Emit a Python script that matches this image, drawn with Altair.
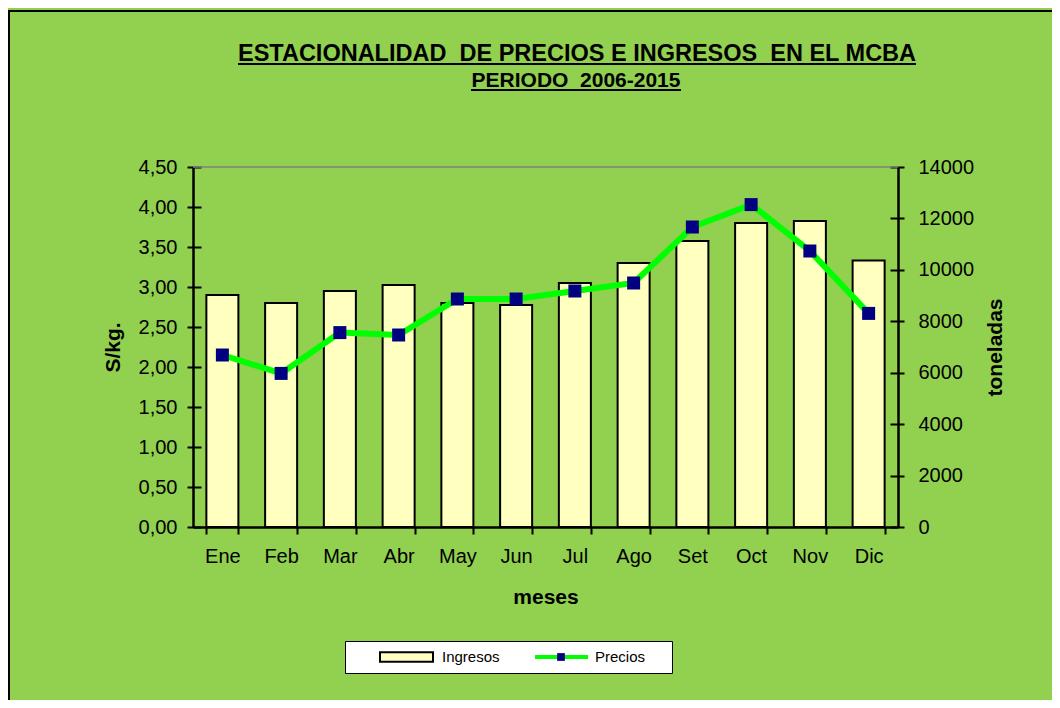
import altair as alt
import pandas as pd

# ---- data ----
meses = ["Ene", "Feb", "Mar", "Abr", "May", "Jun", "Jul", "Ago", "Set", "Oct", "Nov", "Dic"]
ingresos = [9020, 8710, 9180, 9410, 8710, 8630, 9490, 10270, 11120, 11820, 11900, 10360]
precios = [2.15, 1.92, 2.43, 2.40, 2.85, 2.85, 2.95, 3.05, 3.75, 4.03, 3.45, 2.67]
precio_ticks = [0, 0.5, 1.0, 1.5, 2.0, 2.5, 3.0, 3.5, 4.0, 4.5]
ton_ticks = [0, 2000, 4000, 6000, 8000, 10000, 12000, 14000]
titulo = "ESTACIONALIDAD\u00a0 DE PRECIOS E INGRESOS\u00a0 EN EL MCBA"
subtitulo = "PERIODO\u00a0 2006-2015"

df = pd.DataFrame({"mes": meses, "ingresos": ingresos, "precio": precios})

FONT = "Liberation Sans"
BG = "#92D050"
BAR = "#FFFFC0"
LINE = "#00FF00"
MARK = "#000080"
W, H = 705, 360

x_enc = alt.X(
    "mes:N", sort=meses, title="meses",
    scale=alt.Scale(paddingInner=0.455, paddingOuter=0.2275),
    axis=alt.Axis(labelAngle=0, tickBand="extent", labelFontSize=20, labelPadding=12,
                  tickSize=7, titleFontSize=21, titlePadding=20, titleFontWeight="bold"),
)

bars = alt.Chart(df).transform_calculate(serie="'Ingresos'").mark_bar(
    stroke="black", strokeWidth=2, opacity=1
).encode(
    x=x_enc,
    y=alt.Y("ingresos:Q", scale=alt.Scale(domain=[0, 14000], nice=False),
            axis=alt.Axis(orient="right", values=ton_ticks, format="d", title="toneladas",
                          titleAngle=270, labelFontSize=20, tickSize=6, labelPadding=14,
                          labelOverlap=False, titleFontSize=21, titleFontWeight="bold",
                          titlePadding=32)),
    fill=alt.Fill(
        "serie:N", scale=alt.Scale(domain=["Ingresos"], range=[BAR]),
        legend=alt.Legend(orient="none", legendX=186, legendY=481, title=None, padding=0,
                          zindex=2, symbolType="M-1,-0.18H1V0.18H-1Z", symbolSize=2809,
                          symbolStrokeColor="black", symbolStrokeWidth=2, symbolOpacity=1,
                          labelFontSize=15, labelFont=FONT, labelColor="black",
                          labelOffset=8, clipHeight=18)),
)


def price_y(field):
    return alt.Y(
        field + ":Q", scale=alt.Scale(domain=[0, 4.5], nice=False, zero=True),
        axis=alt.Axis(orient="left", values=precio_ticks, labelOverlap=False,
                      tickCount=10,
                      labelExpr="replace(format(datum.value, '.2f'), '.', ',')",
                      title="S/kg.", titleAngle=270, labelFontSize=20, tickSize=6,
                      labelPadding=10, titleFontSize=21, titleFontWeight="bold",
                      titlePadding=15),
    )


# gray line along the top of the plot (4,50)
top_line = alt.Chart(df).transform_aggregate(
    tope="max(precio)"
).transform_calculate(tope="4.5").mark_rule(color="#808080", strokeWidth=1.5).encode(
    y=price_y("tope"))

# this legend also draws the white legend box
line = alt.Chart(df).transform_calculate(serie2="'Precios'").mark_line(strokeWidth=6).encode(
    x=x_enc, y=price_y("precio"),
    stroke=alt.Stroke(
        "serie2:N", scale=alt.Scale(domain=["Precios"], range=[LINE]),
        legend=alt.Legend(orient="none", legendX=152, legendY=474, padding=7,
                          fillColor="white", strokeColor="black", zindex=1,
                          title=".", titleOrient="right", titleColor="white",
                          titleFontSize=15, titlePadding=15,
                          symbolType="stroke", symbolSize=2809, symbolOffset=181,
                          symbolStrokeWidth=4, symbolOpacity=1, clipHeight=18,
                          labelFontSize=15, labelFont=FONT, labelColor="black",
                          labelOffset=5)),
)

points = alt.Chart(df).transform_calculate(marca="'marcador'").mark_point(
    filled=True, color=MARK, size=169, opacity=1
).encode(
    x=x_enc, y=price_y("precio"),
    shape=alt.Shape(
        "marca:N",
        scale=alt.Scale(domain=["marcador"], range=["square"]),
        legend=alt.Legend(orient="none", legendX=363, legendY=481, title=None,
                          labelExpr="''", padding=0, symbolSize=60, zindex=3,
                          clipHeight=18, symbolFillColor=MARK, symbolStrokeColor=MARK,
                          symbolStrokeWidth=0, symbolOpacity=1),
    ),
)

price_layer = alt.layer(line, top_line, points)

# inner halves of the crossing tick marks on both value axes
inner_left = alt.Chart(df).mark_rule(opacity=0).encode(
    y=alt.Y("precio:Q", scale=alt.Scale(domain=[0, 4.5], nice=False),
            axis=alt.Axis(orient="left", offset=-8, values=precio_ticks, domain=False,
                          labels=False, tickSize=8, title=None, grid=False)))
inner_right = alt.Chart(df).mark_rule(opacity=0).encode(
    y=alt.Y("ingresos:Q", scale=alt.Scale(domain=[0, 14000], nice=False),
            axis=alt.Axis(orient="right", offset=-8, values=ton_ticks, domain=False,
                          labels=False, tickSize=8, title=None, grid=False)))

t1 = alt.Chart(pd.DataFrame({"t": [titulo]})).mark_text(
    font=FONT, fontSize=23.5, fontWeight="bold", color="black", align="center",
    baseline="alphabetic"
).encode(text="t:N", x=alt.value(384), y=alt.value(-106))
t2 = alt.Chart(pd.DataFrame({"t": [subtitulo]})).mark_text(
    font=FONT, fontSize=21, fontWeight="bold", color="black", align="center",
    baseline="alphabetic"
).encode(text="t:N", x=alt.value(383), y=alt.value(-80))

dummy = pd.DataFrame({"a": [0]})
u1 = alt.Chart(dummy).mark_rule(color="black", strokeWidth=2).encode(
    x=alt.value(45), x2=alt.value(723), y=alt.value(-103))
u2 = alt.Chart(dummy).mark_rule(color="black", strokeWidth=2).encode(
    x=alt.value(278), x2=alt.value(488), y=alt.value(-77))
b_left = alt.Chart(dummy).mark_rule(color="black", strokeWidth=2).encode(
    x=alt.value(-184), y=alt.value(-156), y2=alt.value(533))
b_top = alt.Chart(dummy).mark_rule(color="black", strokeWidth=2).encode(
    x=alt.value(-185), x2=alt.value(859), y=alt.value(-156))

chart = (
    alt.layer(bars, price_layer, inner_left, inner_right, t1, t2, u1, u2, b_left, b_top)
    .resolve_scale(y="independent")
    .properties(width=W, height=H, autosize="none",
                padding={"left": 185, "top": 159, "right": 154, "bottom": 173})
    .configure(background=BG, font=FONT)
    .configure_view(stroke=None)
    .configure_axis(labelFont=FONT, titleFont=FONT, labelColor="black", titleColor="black",
                    domainColor="black", domainWidth=2.5, tickColor="black", tickWidth=2,
                    grid=False)
)

chart.save("out.html", embed_options={"renderer": "svg", "actions": False})
